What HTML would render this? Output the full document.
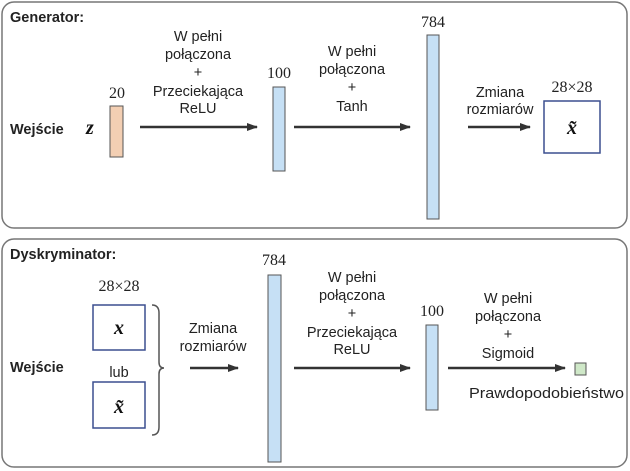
<!DOCTYPE html>
<html><head><meta charset="utf-8"><style>
body{margin:0;background:#fff}
svg{display:block}
.s{font-family:"Liberation Sans",sans-serif;font-size:14.5px;fill:#222}
.b{font-weight:bold}
.n{font-family:"Liberation Serif",serif;font-size:16px;fill:#222}
.m{font-family:"Liberation Serif",serif;font-size:20px;font-style:italic;font-weight:bold;fill:#111}
</style></head><body>
<svg width="630" height="471" viewBox="0 0 630 471">
<defs><marker id="ah" markerWidth="11" markerHeight="10" refX="10" refY="5" orient="auto" markerUnits="userSpaceOnUse"><path d="M0,1 L11,5 L0,9Z" fill="#333"/></marker></defs>
<g>
<rect x="2" y="2" width="625" height="226" rx="12" fill="#fff" stroke="#777" stroke-width="1.5"/>
<text class="s b" x="10" y="22" font-size="17">Generator:</text>
<text class="s b" x="10" y="134" font-size="15">Wejście</text>
<text class="m" x="86" y="134">z</text>
<text class="n" x="117" y="98" text-anchor="middle">20</text>
<rect x="110" y="106" width="13" height="51" fill="#f3cfb3" stroke="#555"/>
<line x1="140" y1="127" x2="257" y2="127" stroke="#333" stroke-width="2.5" marker-end="url(#ah)"/>
<g class="s" text-anchor="middle">
<text x="198" y="41">W pełni</text><text x="198" y="59">połączona</text><text x="198" y="77">+</text><text x="198" y="96">Przeciekająca</text><text x="198" y="113">ReLU</text></g>
<text class="n" x="279" y="78" text-anchor="middle">100</text>
<rect x="273" y="87" width="12" height="84" fill="#c6e0f5" stroke="#555"/>
<line x1="294" y1="127" x2="410" y2="127" stroke="#333" stroke-width="2.5" marker-end="url(#ah)"/>
<g class="s" text-anchor="middle">
<text x="352" y="56">W pełni</text><text x="352" y="74">połączona</text><text x="352" y="92">+</text><text x="352" y="111">Tanh</text></g>
<text class="n" x="433" y="27" text-anchor="middle">784</text>
<rect x="427" y="35" width="12" height="184" fill="#c6e0f5" stroke="#555"/>
<line x1="468" y1="127" x2="530" y2="127" stroke="#333" stroke-width="2.5" marker-end="url(#ah)"/>
<g class="s" text-anchor="middle"><text x="500" y="97">Zmiana</text><text x="500" y="114">rozmiarów</text></g>
<text class="n" x="572" y="92" text-anchor="middle">28×28</text>
<rect x="544" y="101" width="56" height="52" fill="#fff" stroke="#3b4f8f" stroke-width="1.5"/>
<text class="m" x="572" y="134" text-anchor="middle">x̃</text>
</g>
<g>
<rect x="2" y="239" width="625" height="228" rx="12" fill="#fff" stroke="#777" stroke-width="1.5"/>
<text class="s b" x="10" y="259" font-size="17">Dyskryminator:</text>
<text class="s b" x="10" y="372" font-size="15">Wejście</text>
<text class="n" x="119" y="291" text-anchor="middle">28×28</text>
<rect x="93" y="305" width="52" height="45" fill="#fff" stroke="#3b4f8f" stroke-width="1.5"/>
<text class="m" x="119" y="334" text-anchor="middle">x</text>
<text class="s" x="119" y="377" text-anchor="middle">lub</text>
<rect x="93" y="382" width="52" height="46" fill="#fff" stroke="#3b4f8f" stroke-width="1.5"/>
<text class="m" x="119" y="413" text-anchor="middle">x̃</text>
<path d="M152,305 Q159,305 159,313 L159,362 Q159,368 164,368 Q159,368 159,374 L159,427 Q159,435 152,435" fill="none" stroke="#555" stroke-width="1.5"/>
<line x1="190" y1="368" x2="238" y2="368" stroke="#333" stroke-width="2.5" marker-end="url(#ah)"/>
<g class="s" text-anchor="middle"><text x="213" y="333">Zmiana</text><text x="213" y="351">rozmiarów</text></g>
<text class="n" x="274" y="265" text-anchor="middle">784</text>
<rect x="268" y="275" width="13" height="187" fill="#c6e0f5" stroke="#555"/>
<line x1="294" y1="368" x2="410" y2="368" stroke="#333" stroke-width="2.5" marker-end="url(#ah)"/>
<g class="s" text-anchor="middle">
<text x="352" y="282">W pełni</text><text x="352" y="300">połączona</text><text x="352" y="318">+</text><text x="352" y="337">Przeciekająca</text><text x="352" y="354">ReLU</text></g>
<text class="n" x="432" y="316" text-anchor="middle">100</text>
<rect x="426" y="325" width="12" height="85" fill="#c6e0f5" stroke="#555"/>
<line x1="448" y1="368" x2="565" y2="368" stroke="#333" stroke-width="2.5" marker-end="url(#ah)"/>
<g class="s" text-anchor="middle">
<text x="508" y="303">W pełni</text><text x="508" y="321">połączona</text><text x="508" y="339">+</text><text x="508" y="358">Sigmoid</text></g>
<rect x="575" y="363" width="11" height="12" fill="#cfe8c8" stroke="#555"/>
<text class="s" x="469" y="398" textLength="155" lengthAdjust="spacingAndGlyphs">Prawdopodobieństwo</text>
</g>
</svg>
</body></html>
